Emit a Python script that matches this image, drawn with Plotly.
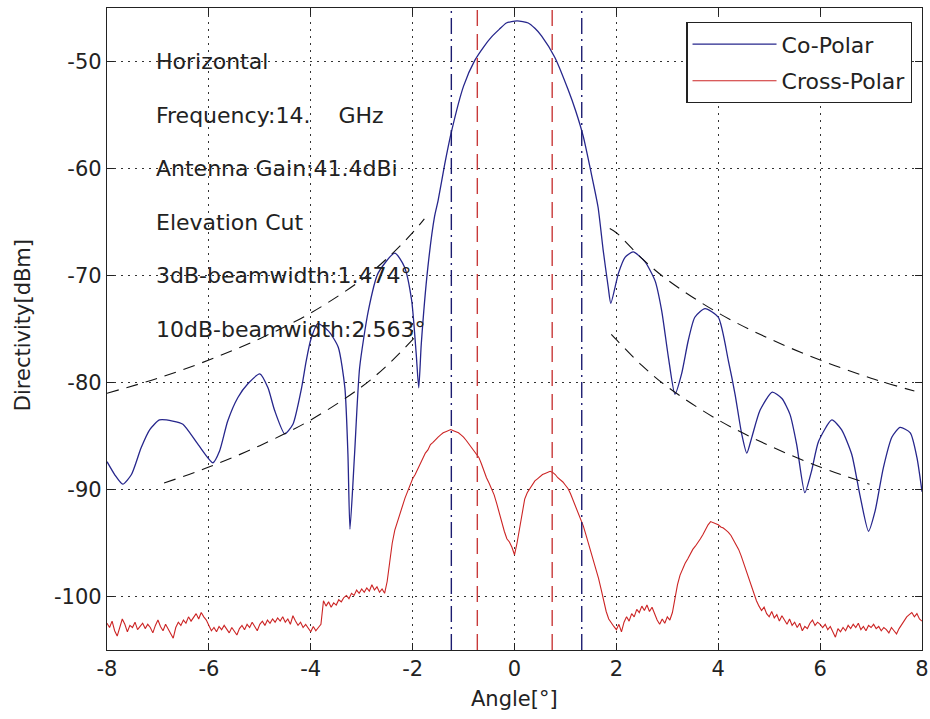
import numpy as np
import plotly.graph_objects as go

# ---------------- data ----------------
co_x = [-8.0, -7.85, -7.69, -7.52, -7.33, -7.16, -6.97, -6.71, -6.51, -6.21, -5.92,
        -5.79, -5.63, -5.43, -5.23, -5.0, -4.84, -4.71, -4.51, -4.35, -4.18, -4.09,
        -4.0, -3.86, -3.65, -3.46, -3.33, -3.27, -3.23, -3.14, -3.04, -2.87, -2.68,
        -2.35, -2.16, -2.02, -1.93, -1.88, -1.83, -1.7, -1.57, -1.5, -1.37, -1.24,
        -1.0, -0.78, -0.6, -0.45, -0.3, -0.16, 0.05, 0.27, 0.4, 0.53, 0.79, 1.05, 1.2, 1.35,
        1.5, 1.64, 1.74, 1.84, 1.89, 2.04, 2.17, 2.33, 2.56, 2.76, 2.89, 3.02, 3.15,
        3.28, 3.41, 3.54, 3.74, 4.0, 4.2, 4.33, 4.46, 4.56, 4.66, 4.82, 5.06, 5.25,
        5.41, 5.54, 5.7, 5.83, 5.97, 6.23, 6.42, 6.62, 6.78, 6.95, 7.08, 7.24, 7.41,
        7.57, 7.77, 7.9, 8.0]
co_y = [-87.4, -88.6, -89.5, -88.6, -86.1, -84.4, -83.5, -83.6, -83.9, -85.8, -87.5,
        -86.4, -83.6, -81.4, -80.1, -79.2, -80.5, -82.6, -84.8, -83.9, -80.5, -78.0,
        -76.0, -74.5, -75.2, -76.7, -80.5, -86.7, -93.7, -86.7, -78.6, -73.3, -69.8,
        -67.9, -69.2, -72.3, -77.3, -80.5, -76.4, -69.2, -64.5, -63.0, -59.6, -56.6,
        -52.3, -49.9, -48.6, -47.7, -47.0, -46.4, -46.2, -46.4, -46.9, -47.6, -49.6, -52.6, -54.6, -57.0,
        -60.3, -63.6, -67.6, -71.1, -72.6, -69.8, -68.3, -67.8, -68.7, -70.5, -73.3, -77.6, -81.1,
        -79.2, -76.1, -73.9, -73.1, -73.9, -78.0, -81.1, -84.8, -86.6, -85.1, -82.6, -80.9, -81.5,
        -83.0, -85.8, -90.3, -88.3, -85.5, -83.5, -84.4, -86.7, -90.5, -93.9, -92.0, -88.0, -85.1,
        -84.2, -84.7, -87.0, -90.2]

# cross-polar sampled every 0.05 deg from -8 to 8
cross_x = [round(-8 + 0.05 * i, 2) for i in range(321)]
cross_y = [
    -102.5, -102.9, -102.3, -103.2, -103.7, -102.8, -102.1, -102.6, -103.3, -102.7,
    -102.9, -102.4, -103.1, -102.8, -102.5, -103.0, -102.6, -102.9, -103.4, -102.7,
    -102.2, -102.8, -103.2, -102.6, -103.0, -103.5, -103.9, -102.9, -102.4, -102.7,
    -102.2, -102.5, -101.9, -102.3, -102.0, -101.6, -102.1, -101.5, -101.9, -102.2,
    -102.7, -103.2, -102.9, -103.3, -102.8, -103.1, -102.7, -103.0, -103.4, -102.9,
    -103.2, -103.6, -103.0, -102.7, -103.1, -102.6, -102.9, -102.4, -102.8, -103.2,
    -102.6, -102.3, -102.7, -102.2, -102.5, -102.1, -102.4, -102.0, -102.3, -101.9,
    -102.4, -102.1, -102.6, -101.8, -102.3, -102.7, -102.4, -102.9, -102.6, -103.0,
    -103.3, -102.8, -103.2, -102.9, -102.6, -100.4, -100.9, -100.5, -101.0, -100.6,
    -100.8, -100.3, -100.5, -100.1, -99.9, -100.2, -99.7, -99.9, -99.4, -99.7,
    -99.3, -99.6, -99.2, -99.5, -98.9, -99.4, -99.1, -99.6, -99.3, -99.7,
    -98.6, -96.8, -95.0, -93.8, -93.0, -92.2, -91.6, -90.8, -90.2, -89.6,
    -89.0, -88.6, -88.1, -87.5, -87.1, -86.6, -86.3, -85.8, -85.6, -85.3,
    -85.1, -84.9, -84.7, -84.6, -84.5, -84.4, -84.5, -84.6, -84.7, -84.9,
    -85.1, -85.4, -85.7, -86.0, -86.3, -86.6, -87.0, -87.6, -88.3, -88.9,
    -89.4, -89.9, -90.5, -91.3, -92.2, -93.0, -93.9, -94.6, -94.9, -95.4,
    -96.1, -95.0, -93.5, -92.0, -90.9, -90.3, -89.9, -89.6, -89.2, -89.0,
    -88.8, -88.6, -88.5, -88.4, -88.3, -88.4, -88.6, -88.9, -89.1, -89.3,
    -89.6, -89.9, -90.4, -91.0, -91.6, -92.2, -92.7, -93.4, -94.2, -95.0,
    -95.8, -96.5, -97.3, -98.3, -99.3, -100.4, -101.4, -102.1, -102.5, -102.8,
    -103.1, -102.6, -103.3, -102.4, -101.9, -102.3, -101.6, -101.9, -101.2, -101.5,
    -100.9, -101.3, -100.8, -101.4, -101.0, -101.7, -102.2, -102.6, -102.1, -102.5,
    -101.9, -102.2, -101.5, -100.2, -98.9, -98.0, -97.4, -96.9, -96.5, -96.0,
    -95.6, -95.3, -95.0, -94.6, -94.2, -93.7, -93.3, -93.0, -93.1, -93.2,
    -93.3, -93.5, -93.6, -93.8, -94.0, -94.3, -94.7, -95.1, -95.6, -96.2,
    -96.9, -97.6, -98.3, -99.2, -99.8, -100.4, -100.9, -101.3, -101.0, -101.6,
    -101.9, -101.4, -102.0, -101.7, -102.3, -101.8, -102.2, -102.6, -102.1, -102.7,
    -102.4, -102.9, -102.5, -103.2, -102.8, -103.0, -102.5, -102.2, -102.7, -102.4,
    -102.6, -102.9, -102.6, -103.1, -102.8, -103.3, -103.8, -103.0, -103.3, -102.9,
    -103.2, -102.7, -103.0, -102.6, -102.9, -102.5, -103.1, -102.8, -103.2, -102.7,
    -102.9, -102.6, -103.0, -102.8, -103.2, -102.9, -103.1, -103.4, -102.9, -103.2,
    -103.5, -103.0, -102.6, -102.3, -101.9, -101.7, -101.5, -101.9, -101.6, -102.1,
    -102.3,
]

# sidelobe envelope masks
env_ul_x = [-8, -7, -6, -5, -4, -3, -2.5, -2, -1.77]
env_ul_y = [-81.0, -79.6, -77.9, -75.9, -73.5, -70.4, -68.4, -66.0, -64.7]
env_ll_x = [-6.88, -6, -5, -4, -3, -2.5, -1.96]
env_ll_y = [-89.4, -87.9, -85.9, -83.5, -80.4, -78.4, -75.8]
env_ur_x = [1.87, 2, 2.5, 3, 4, 5, 6, 7, 7.85]
env_ur_y = [-65.6, -66.0, -68.4, -70.4, -73.5, -75.9, -77.9, -79.6, -80.8]
env_lr_x = [1.9, 2, 2.5, 3, 4, 5, 6, 6.97]
env_lr_y = [-75.5, -76.0, -78.4, -80.4, -83.5, -85.9, -87.9, -89.5]

bw3_edges = [-0.73, 0.74]     # 3 dB beamwidth markers
bw10_edges = [-1.24, 1.32]    # 10 dB beamwidth markers

info_lines = ["Horizontal", "Frequency:14.\u00a0\u00a0\u00a0\u00a0GHz", "Antenna Gain:41.4dBi",
              "Elevation Cut", "3dB-beamwidth:1.474°", "10dB-beamwidth:2.563°"]
info_y = [-50, -55, -60, -65, -70, -75]

x_ticks = [-8, -6, -4, -2, 0, 2, 4, 6, 8]
y_ticks = [-100, -90, -80, -70, -60, -50]
x_range = [-8, 8]
y_range = [-105, -45]

FONT = "DejaVu Sans"
BLUE = "#26268c"
RED = "#cc2424"

fig = go.Figure()

fig.add_trace(go.Scatter(x=co_x, y=co_y, mode="lines", name="Co-Polar",
                         line=dict(color=BLUE, width=1.3, shape="spline", smoothing=0.6),
                         legendgroup="a"))
fig.add_trace(go.Scatter(x=cross_x, y=cross_y, mode="lines", name="Cross-Polar",
                         line=dict(color=RED, width=1.1), legendgroup="b"))

for ex, ey in [(env_ul_x, env_ul_y), (env_ll_x, env_ll_y), (env_ur_x, env_ur_y), (env_lr_x, env_lr_y)]:
    fig.add_trace(go.Scatter(x=ex, y=ey, mode="lines", showlegend=False,
                             line=dict(color="#111111", width=1.1, dash="12px,8px", shape="spline")))

for xv in bw10_edges:
    fig.add_trace(go.Scatter(x=[xv, xv], y=y_range, mode="lines", showlegend=False,
                             line=dict(color="#1c1c70", width=1.4, dash="16px,5px,2px,5px")))
for xv in bw3_edges:
    fig.add_trace(go.Scatter(x=[xv, xv], y=y_range, mode="lines", showlegend=False,
                             line=dict(color="#c83a3a", width=1.4, dash="16px,8px")))

for t, yv in zip(info_lines, info_y):
    fig.add_annotation(x=-7.08, y=yv, text=t, showarrow=False, xanchor="left", yanchor="middle",
                       font=dict(family=FONT, size=22, color="#222222"))

fig.add_annotation(xref="paper", yref="paper", x=0.5, y=-0.077, text="Angle[°]", showarrow=False,
                   xanchor="center", yanchor="middle", font=dict(family=FONT, size=21, color="#222222"))
fig.add_annotation(xref="paper", yref="paper", x=-0.103, y=0.506, text="Directivity[dBm]", showarrow=False,
                   textangle=-90, xanchor="center", yanchor="middle",
                   font=dict(family=FONT, size=21, color="#222222"))

axis_common = dict(showline=True, linecolor="#222222", linewidth=1.3, mirror="ticks",
                   ticks="inside", ticklen=7, tickcolor="#222222", tickwidth=1,
                   showgrid=True, gridcolor="#333333", gridwidth=1, griddash="2px,5px",
                   zeroline=False, automargin=False,
                   tickfont=dict(family=FONT, size=21, color="#222222"))

fig.update_xaxes(range=x_range, tickvals=x_ticks, ticktext=[str(v) for v in x_ticks], **axis_common)
fig.update_yaxes(range=y_range, tickvals=y_ticks, ticktext=[str(v) for v in y_ticks], **axis_common)

fig.update_layout(
    width=930, height=719,
    margin=dict(l=107, r=8, t=8, b=69, autoexpand=False),
    paper_bgcolor="white", plot_bgcolor="white",
    legend=dict(x=0.988, y=0.978, xanchor="right", yanchor="top",
                bgcolor="white", bordercolor="#222222", borderwidth=1.3,
                font=dict(family=FONT, size=22, color="#222222"),
                itemwidth=84, tracegroupgap=5),
    showlegend=True,
)

fig.write_html("out.html")
